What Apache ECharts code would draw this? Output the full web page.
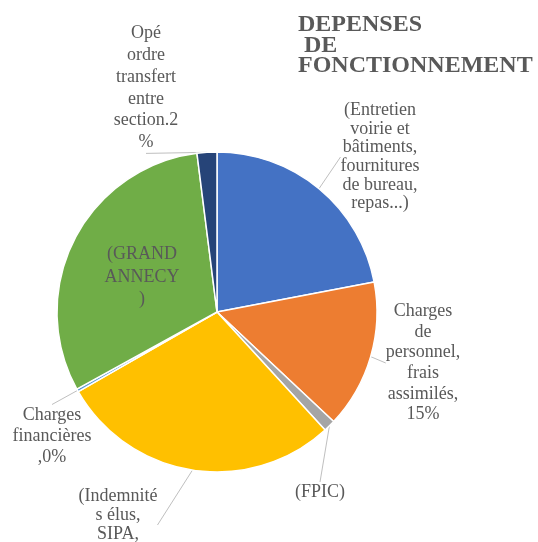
<!DOCTYPE html>
<html><head><meta charset="utf-8">
<script src="https://cdn.jsdelivr.net/npm/echarts@6/dist/echarts.min.js"></script>
<style>html,body{margin:0;padding:0;background:#fff}#c{width:538px;height:542px}</style>
</head><body><div id="c"></div>
<script>
const titleText = "DEPENSES\n DE\nFONCTIONNEMENT";
const categories = [
  "(Entretien\nvoirie et\nbâtiments,\nfournitures\nde bureau,\nrepas...)",
  "Charges\nde\npersonnel,\nfrais\nassimilés,\n15%",
  "(FPIC)",
  "(Indemnité\ns élus,\nSIPA,\n...)",
  "Charges\nfinancières\n,0%",
  "(GRAND\nANNECY\n)",
  "Opé\nordre\ntransfert\nentre\nsection.2\n%"
];
const values = [22, 15, 1.2, 28.5, 0.3, 31, 2];
const colors = ["#4472C4", "#ED7D31", "#A5A5A5", "#FFC000", "#5B9BD5", "#70AD47", "#264478"];
// label placement (layout only)
const labelPos = [[380, 157], [423, 363], [320, 492], [118, 525], [52, 436], [142, 277], [146, 88]];
const labelLH = [18.6, 20.6, 20, 19, 21, 22.5, 21.8];

const FONT = "'Liberation Serif', 'DejaVu Serif', serif";
const chart = echarts.init(document.getElementById('c'), null, {renderer: 'canvas'});
chart.setOption({
  backgroundColor: '#ffffff',
  animation: false,
  textStyle: {fontFamily: FONT},
  title: {
    text: titleText, left: 293, top: 10,
    textStyle: {fontFamily: FONT, fontWeight: 'bold', fontSize: 24, lineHeight: 20.5, color: '#595959'}
  },
  series: [{
    type: 'pie',
    center: [217, 312],
    radius: 160,
    startAngle: 90,
    clockwise: true,
    avoidLabelOverlap: false,
    itemStyle: {borderColor: '#ffffff', borderWidth: 1.5},
    label: {
      show: true, fontFamily: FONT, fontSize: 18, color: '#595959', align: 'center'
    },
    labelLine: {show: true, lineStyle: {color: '#bfbfbf', width: 1}, length: 0, length2: 0},
    labelLayout: function (p) {
      const pos = labelPos[p.dataIndex];
      return {x: pos[0], y: pos[1], align: 'center', verticalAlign: 'middle'};
    },
    data: categories.map((n, i) => ({
      name: n, value: values[i],
      itemStyle: {color: colors[i]},
      label: {fontFamily: FONT, fontSize: 18, color: '#595959', lineHeight: labelLH[i], formatter: '{b}'},
      labelLine: {show: i !== 5}
    }))
  }]
});
</script></body></html>
